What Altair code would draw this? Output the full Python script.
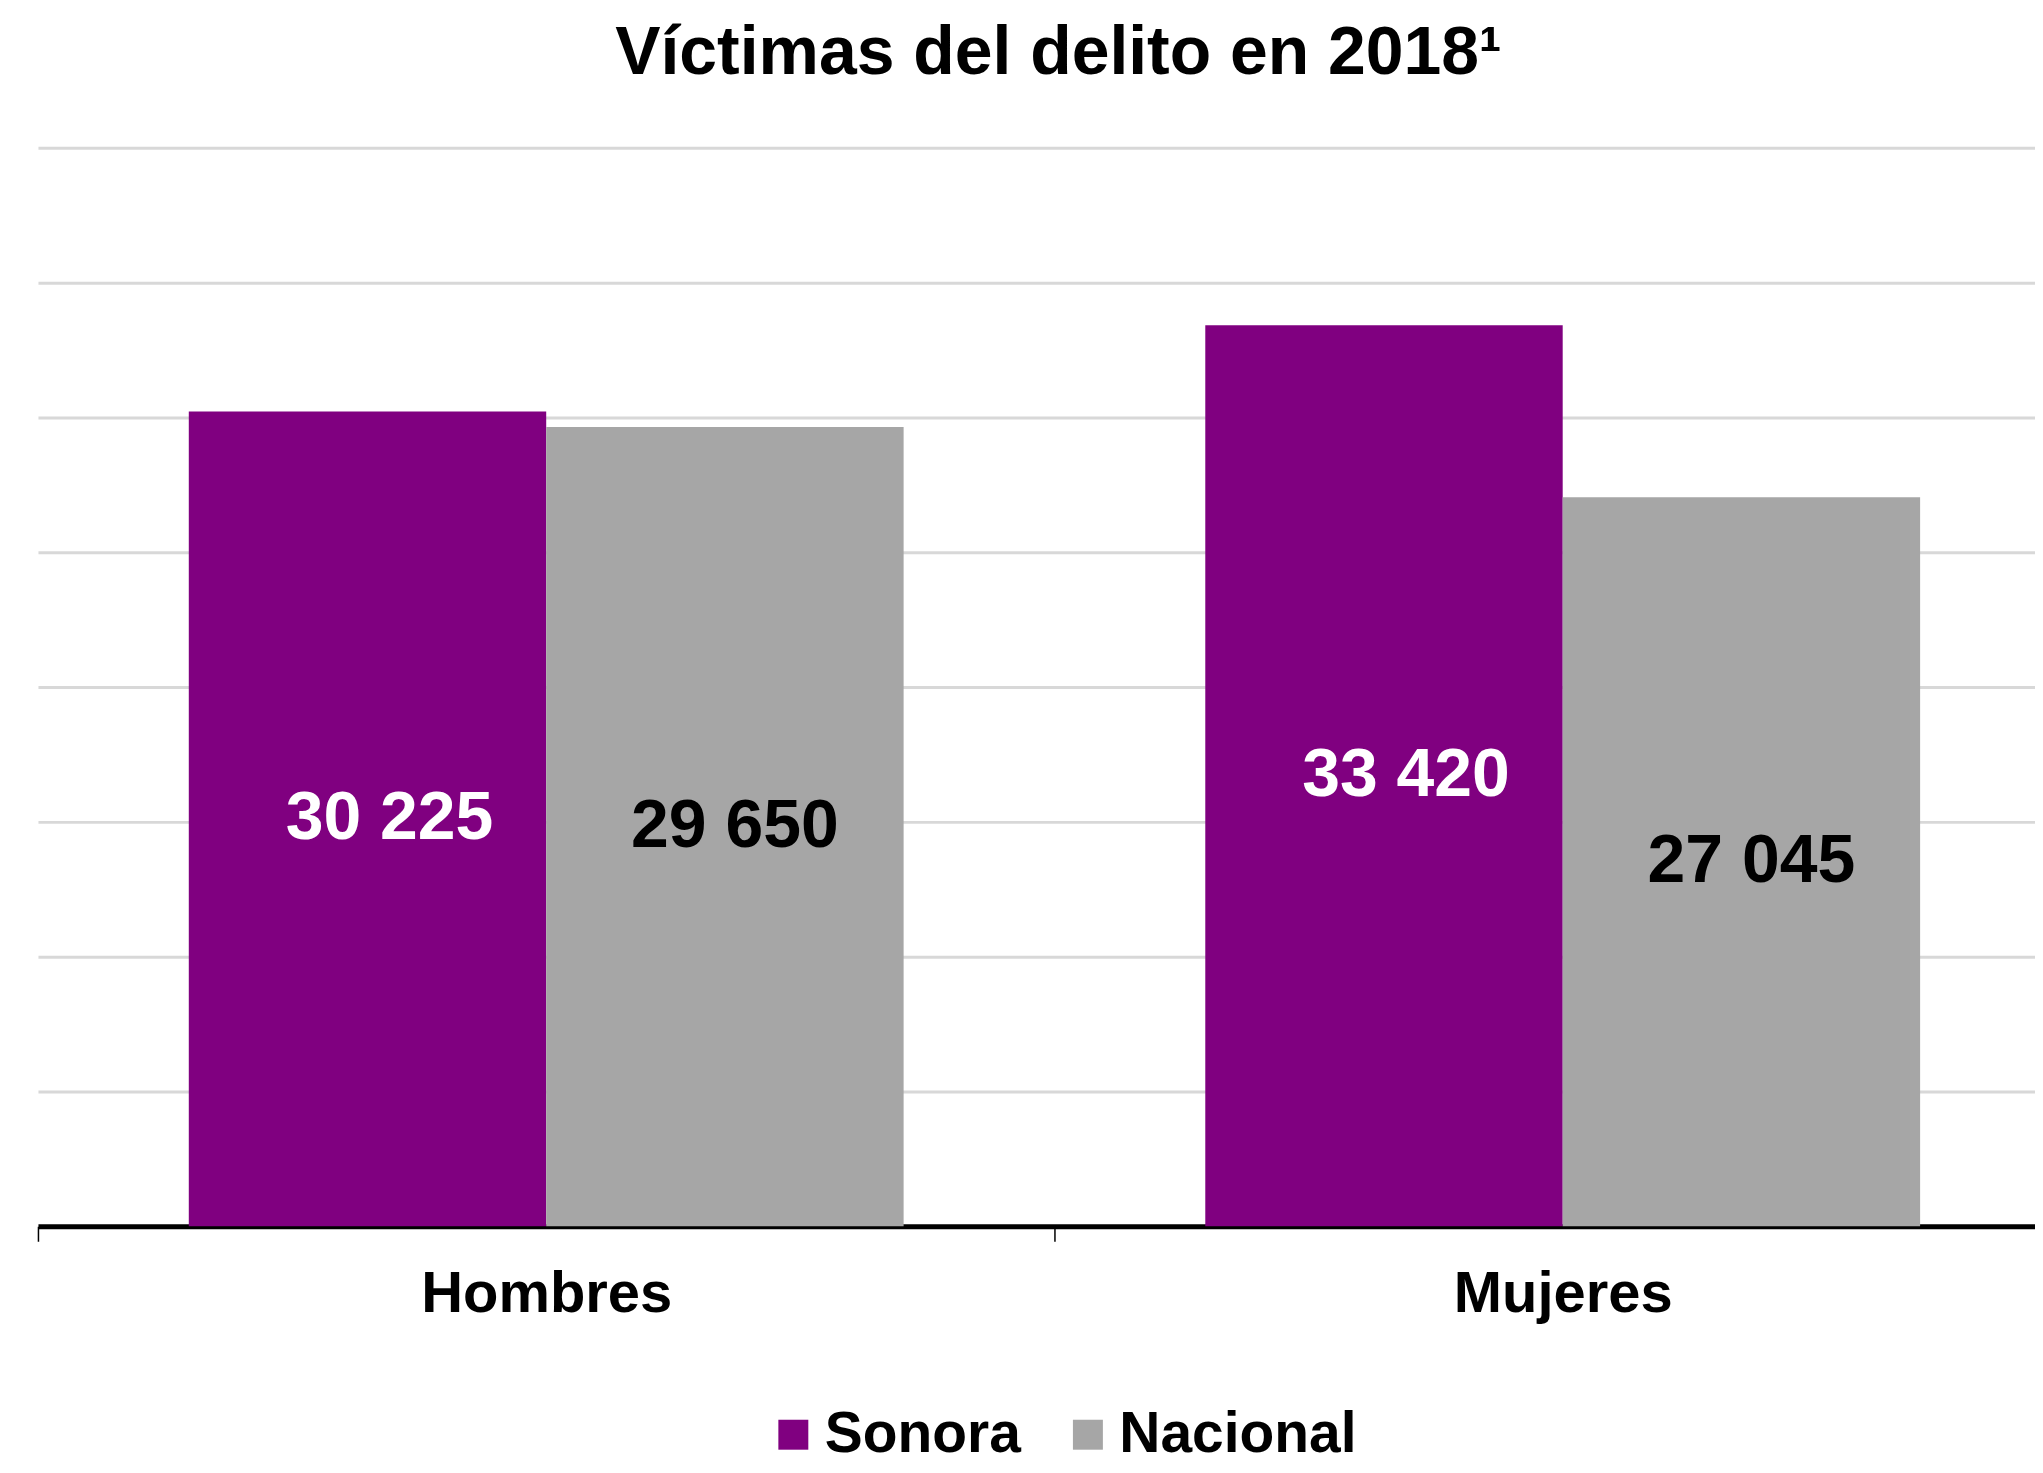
import altair as alt
import pandas as pd

categories = ["Hombres", "Mujeres"]
series = ["Sonora", "Nacional"]
sonora = [30225, 33420]
nacional = [29650, 27045]
colors = ["#800080", "#a6a6a6"]
grid_values = [5000, 10000, 15000, 20000, 25000, 30000, 35000, 40000]
title_text = "Víctimas del delito en 2018¹"

rows = []
for i, c in enumerate(categories):
    rows.append({"cat": c, "serie": series[0], "value": sonora[i]})
    rows.append({"cat": c, "serie": series[1], "value": nacional[i]})
df = pd.DataFrame(rows)

FONT = "Liberation Sans"

x = alt.X(
    "cat:N", sort=categories, title=None,
    scale=alt.Scale(range=[0, 2036], paddingInner=0, paddingOuter=0),
    axis=alt.Axis(labelAngle=0, labelFontSize=58, labelFont=FONT, labelFontWeight="bold",
                  labelColor="black", labelPadding=24, labelLimit=0, tickSize=15,
                  tickColor="black", tickWidth=1.5, tickBand="extent",
                  domainColor="black", domainWidth=5, grid=False),
)
xo = alt.XOffset("serie:N", sort=series,
                 scale=alt.Scale(paddingInner=0, paddingOuter=0.422))
y = alt.Y("value:Q", title=None,
          scale=alt.Scale(domain=[0, 40000], nice=False),
          axis=alt.Axis(values=grid_values, labels=False, ticks=False, domain=False,
                        grid=True, gridColor="#d8d8d8", gridWidth=3))

bars = alt.Chart(df).mark_bar().encode(
    x=x, xOffset=xo, y=y,
    color=alt.Color("serie:N", sort=series,
                    scale=alt.Scale(domain=series, range=colors),
                    legend=alt.Legend(orient="none", legendX=728, legendY=1260,
                                      direction="horizontal", title=None,
                                      labelFontSize=57, labelFont=FONT,
                                      labelFontWeight="bold", labelColor="black",
                                      labelLimit=0,
                                      symbolType="square", symbolSize=900,
                                      symbolStrokeWidth=0, columnPadding=38,
                                      labelOffset=3)),
)


def value_labels(serie, color, dx):
    return alt.Chart(df).transform_filter(
        alt.datum.serie == serie
    ).transform_calculate(
        mid="datum.value / 2",
        lbl="replace(format(datum.value, ','), ',', ' ')",
    ).mark_text(fontSize=68, font=FONT, fontWeight="bold", baseline="middle",
                dx=dx, color=color).encode(
        x=x, xOffset=xo,
        y=alt.Y("mid:Q"),
        text="lbl:N",
    )


chart = alt.layer(
    bars,
    value_labels("Sonora", "white", 22),
    value_labels("Nacional", "black", 10),
).properties(
    width=2000, height=1080,
    autosize=alt.AutoSizeParams(type="none"),
    padding={"left": 30, "top": 139, "right": 0, "bottom": 238},
    title=alt.TitleParams(text=title_text, fontSize=68, font=FONT, fontWeight="bold",
                          color="black", anchor="middle", dx=22, offset=60),
).configure_view(stroke=None)

chart.save("out.html", embed_options={"renderer": "svg", "actions": False})
